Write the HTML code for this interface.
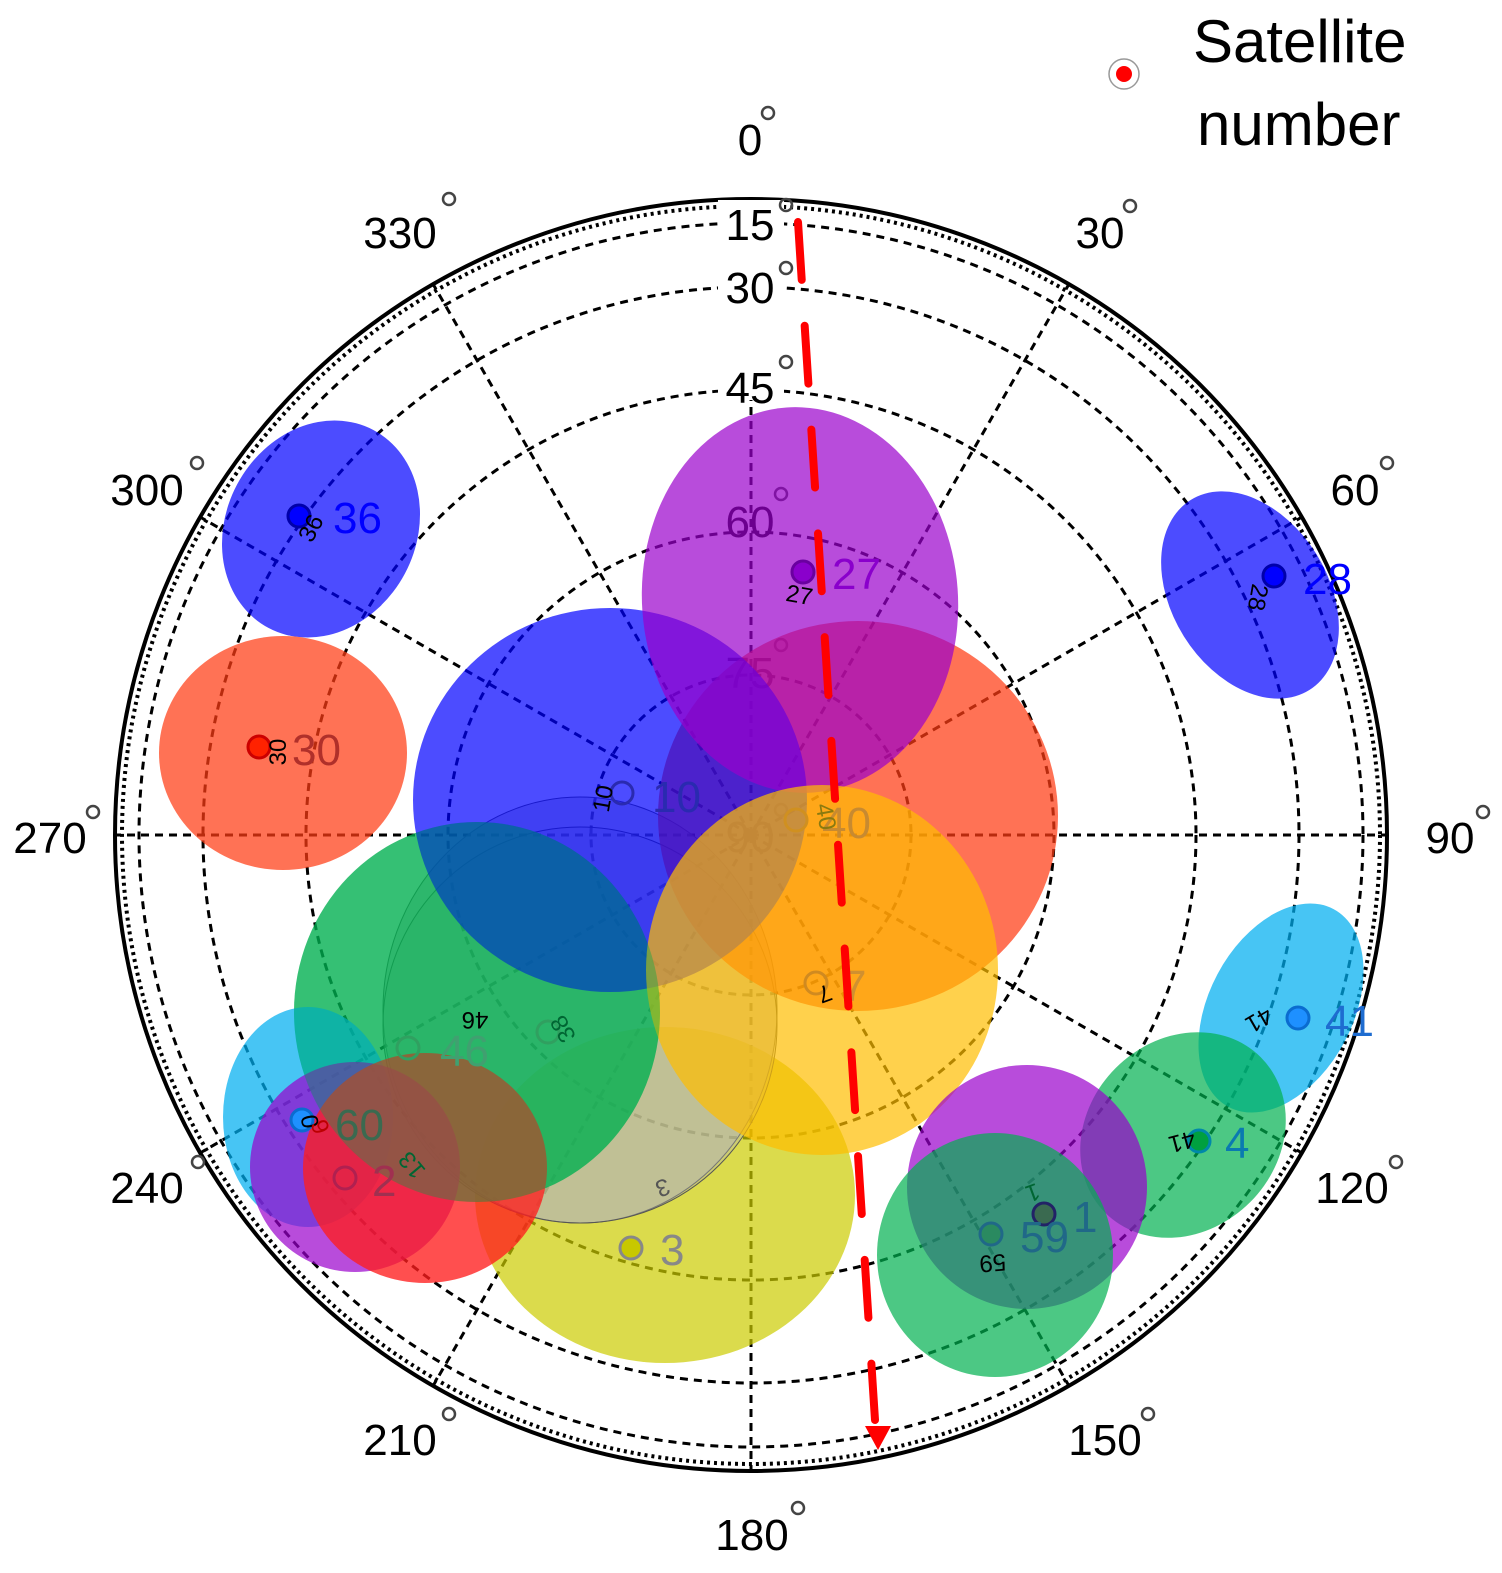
<!DOCTYPE html>
<html><head><meta charset="utf-8"><style>
html,body{margin:0;padding:0;background:#fff}
svg{display:block}
text{font-family:"Liberation Sans",Arial,sans-serif}
</style></head><body>
<svg width="1502" height="1573" viewBox="0 0 1502 1573" xmlns="http://www.w3.org/2000/svg">
<g fill="none" stroke="#000">
<circle cx="751" cy="835" r="636" stroke-width="4"/>
<circle cx="751" cy="835" r="629" stroke-width="4" stroke-dasharray="3 4"/>
<g stroke-width="3" stroke-dasharray="8 6">
<circle cx="751" cy="835" r="612"/>
<circle cx="751" cy="835" r="548"/>
<circle cx="751" cy="835" r="445"/>
<circle cx="751" cy="835" r="303"/>
<circle cx="751" cy="835" r="160"/>
<line x1="751" y1="835" x2="751" y2="199"/>
<line x1="751" y1="835" x2="1069" y2="284"/>
<line x1="751" y1="835" x2="1302" y2="517"/>
<line x1="751" y1="835" x2="1387" y2="835"/>
<line x1="751" y1="835" x2="1302" y2="1153"/>
<line x1="751" y1="835" x2="1069" y2="1386"/>
<line x1="751" y1="835" x2="751" y2="1471"/>
<line x1="751" y1="835" x2="433" y2="1386"/>
<line x1="751" y1="835" x2="200" y2="1153"/>
<line x1="751" y1="835" x2="115" y2="835"/>
<line x1="751" y1="835" x2="200" y2="517"/>
<line x1="751" y1="835" x2="433" y2="284"/>
</g></g>
<rect x="718" y="200" width="66" height="200" fill="#fff"/>
<g font-size="44" fill="#000" text-anchor="middle">
<text x="750" y="155">0</text><text x="1100" y="248">30</text><text x="1355" y="505">60</text>
<text x="1450" y="853">90</text><text x="1352" y="1203">120</text><text x="1105" y="1455">150</text>
<text x="752" y="1550">180</text><text x="400" y="1455">210</text><text x="147" y="1203">240</text>
<text x="50" y="853">270</text><text x="147" y="505">300</text><text x="400" y="248">330</text>
<text x="750" y="240">15</text><text x="750" y="303">30</text><text x="750" y="403">45</text>
<text x="750" y="537">60</text><text x="750" y="688">75</text><text x="750" y="852">90</text>
</g>
<g fill="none" stroke="#444" stroke-width="2.5">
<circle cx="768" cy="113" r="6"/><circle cx="1130" cy="206" r="6"/><circle cx="1387" cy="463" r="6"/>
<circle cx="1483" cy="812" r="6"/><circle cx="1396" cy="1162" r="6"/><circle cx="1148" cy="1414" r="6"/>
<circle cx="798" cy="1508" r="6"/><circle cx="449" cy="1414" r="6"/><circle cx="198" cy="1162" r="6"/>
<circle cx="93" cy="812" r="6"/><circle cx="197" cy="463" r="6"/><circle cx="449" cy="199" r="6"/>
<circle cx="786" cy="205" r="6"/><circle cx="786" cy="268" r="6"/><circle cx="786" cy="362" r="6"/>
<circle cx="781" cy="494" r="6"/><circle cx="781" cy="645" r="6"/><circle cx="781" cy="810" r="6"/>
</g>
<g>
<ellipse cx="321" cy="529" rx="95" ry="112" transform="rotate(28 321 529)" fill="#0000ff" fill-opacity="0.7"/>
<ellipse cx="283" cy="753" rx="124" ry="117" fill="#ff3c14" fill-opacity="0.72"/>
<ellipse cx="665" cy="1195" rx="190" ry="168" fill="#cccc00" fill-opacity="0.7"/>
<ellipse cx="580" cy="1010" rx="197" ry="213" fill="#b4b4b4" fill-opacity="0.55" stroke="#555" stroke-width="1"/>
<ellipse cx="580" cy="1025" rx="197" ry="198" fill="#b4b4b4" fill-opacity="0.35" stroke="#555" stroke-width="1"/>
<ellipse cx="477" cy="1012" rx="183" ry="190" fill="#00b050" fill-opacity="0.68"/>
<ellipse cx="858" cy="816" rx="200" ry="195" fill="#ff3c14" fill-opacity="0.72"/>
<ellipse cx="610" cy="800" rx="197" ry="192" fill="#0000ff" fill-opacity="0.7"/>
<ellipse cx="800" cy="600" rx="158" ry="193" transform="rotate(-4 800 600)" fill="#9a00cc" fill-opacity="0.7"/>
<ellipse cx="822" cy="970" rx="176" ry="185" fill="#ffbe00" fill-opacity="0.7"/>
<ellipse cx="1250" cy="595" rx="78" ry="112" transform="rotate(-32 1250 595)" fill="#0000ff" fill-opacity="0.7"/>
<ellipse cx="1281" cy="1008" rx="72" ry="112" transform="rotate(28 1281 1008)" fill="#00aff0" fill-opacity="0.72"/>
<ellipse cx="1183" cy="1135" rx="95" ry="110" transform="rotate(45 1183 1135)" fill="#00b050" fill-opacity="0.7"/>
<ellipse cx="1027" cy="1187" rx="120" ry="122" fill="#9a00cc" fill-opacity="0.7"/>
<ellipse cx="995" cy="1255" rx="118" ry="122" fill="#00b050" fill-opacity="0.7"/>
<ellipse cx="308" cy="1117" rx="85" ry="110" fill="#00aff0" fill-opacity="0.72"/>
<ellipse cx="355" cy="1167" rx="105" ry="105" fill="#9a00cc" fill-opacity="0.7"/>
<ellipse cx="425" cy="1168" rx="122" ry="115" fill="#ff1e1e" fill-opacity="0.78"/>
<ellipse cx="477" cy="1012" rx="183" ry="190" fill="#00b050" fill-opacity="0.35"/>
</g>
<g font-size="44" text-anchor="start">
<circle cx="299" cy="516" r="11" fill="#00f" stroke="#00a" stroke-width="3"/><text x="333" y="533" fill="#00f">36</text>
<circle cx="259" cy="747" r="11" fill="#f20" stroke="#c00" stroke-width="3"/><text x="292" y="765" fill="#b0302a">30</text>
<circle cx="803" cy="572" r="11" fill="#8a00cc" stroke="#6a00a0" stroke-width="3"/><text x="832" y="589" fill="#8a00cc">27</text>
<circle cx="1274" cy="576" r="11" fill="#00f" stroke="#00a" stroke-width="3"/><text x="1303" y="594" fill="#00f">28</text>
<circle cx="1298" cy="1018" r="11" fill="#1e90ff" stroke="#0a6cd0" stroke-width="3"/><text x="1325" y="1036" fill="#1e6cd0">41</text>
<circle cx="1199" cy="1141" r="11" fill="#00a040" stroke="#08a" stroke-width="3"/><text x="1225" y="1158" fill="#0a7ab0">4</text>
<circle cx="1044" cy="1214" r="11" fill="#3a6a50" stroke="#226" stroke-width="3"/><text x="1073" y="1232" fill="#206888">1</text>
<circle cx="991" cy="1234" r="11" fill="#2a8a60" stroke="#206888" stroke-width="3"/><text x="1020" y="1252" fill="#206888">59</text>
<circle cx="631" cy="1248" r="11" fill="#c8c800" stroke="#888" stroke-width="3"/><text x="660" y="1265" fill="#888">3</text>
<circle cx="622" cy="793" r="11" fill="none" stroke="#2a2ab0" stroke-width="3"/><text x="652" y="812" fill="#2a2ab0">10</text>
<circle cx="796" cy="820" r="11" fill="none" stroke="#d09020" stroke-width="3"/><text x="822" y="838" fill="#c88a30">40</text>
<circle cx="816" cy="983" r="11" fill="none" stroke="#d08a20" stroke-width="3"/><text x="842" y="1001" fill="#d09030">7</text>
<circle cx="408" cy="1048" r="11" fill="none" stroke="#30a060" stroke-width="3"/><text x="440" y="1066" fill="#40a070">46</text>
<circle cx="548" cy="1032" r="11" fill="none" stroke="#30a060" stroke-width="3"/>
<circle cx="302" cy="1120" r="11" fill="#1e90ff" stroke="#0a6cd0" stroke-width="3"/><text x="335" y="1140" fill="#3a6a50">60</text>
<circle cx="345" cy="1178" r="11" fill="none" stroke="#b02050" stroke-width="3"/><text x="372" y="1196" fill="#a03050">2</text>
</g>
<g font-size="24" fill="#000" text-anchor="middle">
<text transform="translate(318,532) rotate(-62)">36</text>
<text transform="translate(286,752) rotate(-90)">30</text>
<text transform="translate(798,603) rotate(10)">27</text>
<text transform="translate(1250,596) rotate(100)">28</text>
<text transform="translate(1255,1013) rotate(150)">41</text>
<text transform="translate(1180,1134) rotate(165)">41</text>
<text transform="translate(1030,1185) rotate(160)" fill="#063">1</text>
<text transform="translate(992,1255) rotate(175)">59</text>
<text transform="translate(660,1180) rotate(160)" fill="#555">3</text>
<text transform="translate(611,800) rotate(-80)">10</text>
<text transform="translate(818,818) rotate(80)" fill="#8a7a10">40</text>
<text transform="translate(822,986) rotate(160)">7</text>
<text transform="translate(475,1012) rotate(180)">46</text>
<text transform="translate(570,1025) rotate(-120)" fill="#063">38</text>
<text transform="translate(418,1160) rotate(-130)" fill="#063">13</text>
<text transform="translate(318,1120) rotate(-100)">0</text>
<text transform="translate(328,1124) rotate(-110)" fill="#b00">6</text>
</g>
<g stroke="#ff0000" stroke-width="8" stroke-linecap="round">
<line x1="798" y1="222" x2="875" y2="1420" stroke-dasharray="58 46"/>
</g>
<polygon points="865,1426 891,1426 878,1450" fill="#f00"/>
<circle cx="1124" cy="74" r="15" fill="#fff" stroke="#999" stroke-width="1.5"/>
<circle cx="1124" cy="74" r="8" fill="#f00"/>
<text x="1193" y="62" font-size="60" fill="#000">Satellite</text>
<text x="1197" y="145" font-size="60" fill="#000">number</text>
</svg>
</body></html>
